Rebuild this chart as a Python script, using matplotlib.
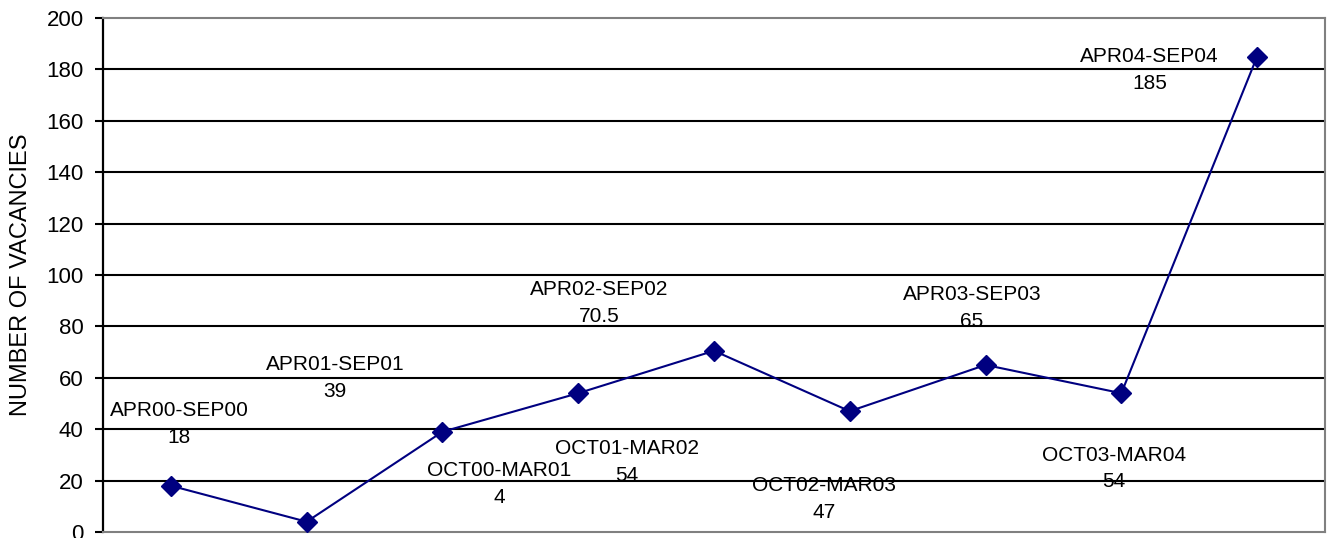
import matplotlib
matplotlib.use("Agg")
import matplotlib.pyplot as plt

plt.rcParams['font.family'] = ['Liberation Sans', 'DejaVu Sans']

# data
periods = ["APR00-SEP00", "OCT00-MAR01", "APR01-SEP01", "OCT01-MAR02",
           "APR02-SEP02", "OCT02-MAR03", "APR03-SEP03", "OCT03-MAR04",
           "APR04-SEP04"]
vacancies = [18, 4, 39, 54, 70.5, 47, 65, 54, 185]
value_text = ["18", "4", "39", "54", "70.5", "47", "65", "54", "185"]
y_ticks = [0, 20, 40, 60, 80, 100, 120, 140, 160, 180, 200]

# where the (oddly placed) data labels sit, in data units
label_x = [0.06, 2.418, 1.211, 3.357, 3.156, 4.809, 5.901, 6.946, 7.207]
label_y = [42.2, 18.7, 59.9, 27.4, 89.1, 13.0, 87.3, 24.7, 179.6]

navy = "#000080"
grey = "#808080"

fig = plt.figure(figsize=(13.31, 5.38), dpi=100)
ax = fig.add_axes([103 / 1331, 1 - 532 / 538, 1222 / 1331, 514 / 538])

x = list(range(len(vacancies)))
ax.plot(x, vacancies, color=navy, lw=1.5, marker='D', ms=10,
        markerfacecolor=navy, markeredgecolor=navy, zorder=3)

ax.set_xlim(-0.5, len(vacancies) - 0.5)
ax.set_ylim(0, 200)
ax.set_yticks(y_ticks)
ax.set_xticks([])
ax.tick_params(axis='y', length=6, width=1.5, pad=8, labelsize=16, color='black')

for t in y_ticks[1:-1]:
    ax.axhline(t, color='black', lw=1.5, zorder=1)

ax.spines['left'].set_color('black')
ax.spines['left'].set_linewidth(1.6)
for s in ['top', 'right', 'bottom']:
    ax.spines[s].set_color(grey)
    ax.spines[s].set_linewidth(1.5)

for name, val, lx, ly in zip(periods, value_text, label_x, label_y):
    ax.annotate(name, (lx, ly), xytext=(0, 9.7), textcoords='offset points',
                ha='center', va='center', fontsize=15, color='black')
    ax.annotate(val, (lx, ly), xytext=(0, -9.7), textcoords='offset points',
                ha='center', va='center', fontsize=15, color='black')

fig.text(21 / 1331, 1 - 275 / 538, "NUMBER OF VACANCIES", rotation=90,
         ha='center', va='center', fontsize=17)

fig.savefig("out.png", dpi=100, facecolor='white')
